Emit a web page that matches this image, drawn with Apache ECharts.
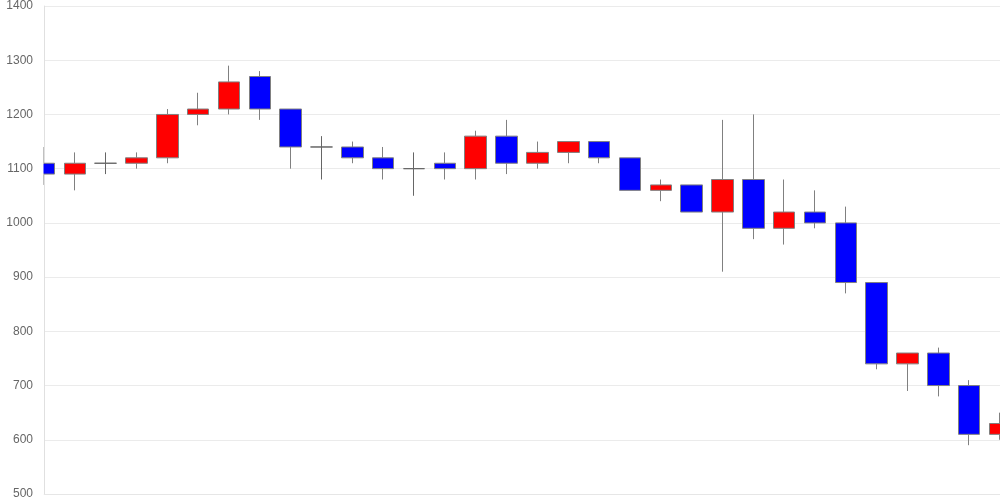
<!DOCTYPE html>
<html><head><meta charset="utf-8">
<script src="https://cdn.jsdelivr.net/npm/echarts@6/dist/echarts.min.js"></script>
<style>html,body{margin:0;padding:0;background:#fff}#c{width:1000px;height:500px}</style>
</head><body><div id="c"></div>
<script>
const categories = ['1','2','3','4','5','6','7','8','9','10','11','12','13','14','15','16','17','18','19','20','21','22','23','24','25','26','27','28','29','30','31','32'];
const openValues  = [1110,1090,1110,1110,1120,1200,1210,1270,1210,1140,1140,1120,1100,1110,1100,1160,1110,1130,1150,1120,1060,1070,1020,1080,990,1020,1000,890,740,760,700,610];
const closeValues = [1090,1110,1110,1120,1200,1210,1260,1210,1140,1140,1120,1100,1100,1100,1160,1110,1130,1150,1120,1060,1070,1020,1080,990,1020,1000,890,740,760,700,610,630];
const lowValues   = [1070,1060,1090,1100,1110,1180,1200,1190,1100,1080,1110,1080,1050,1080,1080,1090,1100,1110,1110,1060,1040,1020,910,970,960,990,870,730,690,680,590,600];
const highValues  = [1140,1130,1130,1130,1210,1240,1290,1280,1210,1160,1150,1140,1130,1130,1170,1190,1150,1150,1150,1120,1080,1070,1190,1200,1080,1060,1030,890,760,770,710,650];
const yTicks = {min: 500, max: 1400, interval: 100};

const data = categories.map((c, i) => [openValues[i], closeValues[i], lowValues[i], highValues[i]]);
const chart = echarts.init(document.getElementById('c'));
chart.setOption({
  animation: false,
  grid: {left: 44, right: 0, top: 6, bottom: 6, containLabel: false},
  graphic: [{type: 'rect', shape: {x: 33, y: 0, width: 10.5, height: 500}, style: {fill: '#fff'}, z: 100, silent: true}],
  xAxis: {
    type: 'category', data: categories, boundaryGap: false,
    axisLine: {show: true, lineStyle: {color: '#e6e6e6'}},
    axisTick: {show: false}, axisLabel: {show: false}, splitLine: {show: false}
  },
  yAxis: {
    type: 'value', min: yTicks.min, max: yTicks.max, interval: yTicks.interval,
    axisLine: {show: true, lineStyle: {color: '#e0e0e0'}},
    axisTick: {show: false},
    axisLabel: {color: '#666', fontSize: 12, fontFamily: 'Liberation Sans, Arial, sans-serif', margin: 11,
      formatter: v => String(v)},
    splitLine: {lineStyle: {color: '#ebebeb'}}
  },
  series: [{
    type: 'candlestick', data: data, barWidth: 22, clip: true,
    itemStyle: {
      color: '#ff0000', color0: '#0000ff',
      borderColor: '#808080', borderColor0: '#808080', borderColorDoji: '#666',
      borderWidth: 1
    }
  }]
});
</script></body></html>
